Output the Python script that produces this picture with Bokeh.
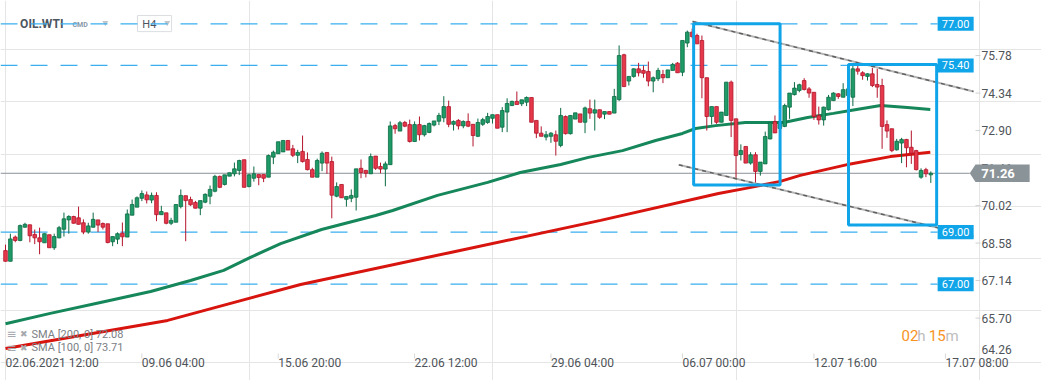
from bokeh.plotting import figure
from bokeh.models import Range1d, ColumnDataSource
from bokeh.embed import file_html
from bokeh.resources import INLINE
from bokeh.core.properties import value

# ---------------- data (OIL.WTI, H4 candles) ----------------
opens = [68.29, 67.88, 68.81, 68.68, 69.19, 69.28, 68.91, 68.78, 68.59, 68.90,
         68.40, 68.78, 69.11, 69.47, 69.60, 69.55, 69.36, 69.00, 69.19, 69.47,
         69.33, 69.32, 68.63, 68.73, 68.96, 68.81, 69.65, 69.96, 70.30, 70.43,
         70.23, 70.41, 69.67, 69.74, 69.34, 69.38, 69.98, 70.40, 70.25, 70.14,
         69.92, 70.15, 70.38, 70.57, 71.14, 70.83, 71.15, 71.24, 71.37, 71.78,
         70.75, 71.07, 71.21, 71.21, 71.11, 71.88, 72.01, 72.08, 72.52, 72.20,
         71.95, 72.10, 71.79, 71.40, 71.11, 71.65, 72.06, 71.71, 70.38, 70.83,
         70.26, 70.30, 70.34, 71.45, 71.37, 71.24, 71.92, 71.52, 71.42, 71.59,
         73.09, 72.88, 73.21, 73.13, 72.48, 73.13, 72.74, 72.83, 73.11, 73.26,
         73.39, 73.82, 73.14, 73.29, 73.08, 73.25, 73.14, 72.68, 73.14, 73.21,
         73.37, 73.51, 73.03, 73.61, 73.86, 74.02, 73.93, 73.99, 74.17, 73.29,
         72.80, 72.65, 72.68, 72.74, 72.33, 73.44, 72.78, 73.34, 73.54, 73.22,
         73.74, 73.57, 73.70, 73.53, 73.63, 73.57, 74.09, 75.81, 74.80, 74.98,
         75.27, 75.21, 75.17, 74.80, 74.89, 75.05, 74.93, 75.21, 75.49, 75.14,
         76.26, 76.68, 76.55, 76.36, 74.93, 73.44, 73.82, 73.22, 73.48, 74.76,
         73.35, 71.98, 72.29, 71.65, 71.97, 71.33, 71.62, 72.58, 73.25, 72.98,
         73.06, 73.80, 74.28, 74.44, 74.82, 74.50, 74.37, 73.48, 73.31, 73.70,
         74.05, 74.31, 74.18, 74.25, 74.18, 75.27, 75.12, 74.98, 75.08, 74.67,
         74.63, 73.13, 72.97, 72.16, 72.42, 72.56, 72.26, 72.13, 71.11, 71.40,
         71.20]
highs = [68.52, 68.94, 68.87, 69.29, 69.36, 69.29, 69.10, 69.17, 68.95, 68.90,
         68.94, 69.24, 69.75, 69.65, 69.63, 69.98, 69.49, 69.36, 69.75, 69.47,
         69.37, 69.32, 68.83, 68.99, 69.37, 69.87, 70.25, 70.37, 70.60, 70.56,
         70.52, 70.53, 70.01, 69.74, 69.55, 70.06, 70.64, 70.40, 70.36, 70.20,
         70.21, 70.49, 70.79, 71.20, 71.17, 71.20, 71.28, 71.67, 71.78, 71.78,
         71.24, 71.52, 71.21, 71.21, 71.98, 72.13, 72.47, 72.52, 72.52, 72.35,
         72.16, 72.71, 72.06, 71.47, 71.82, 72.10, 72.06, 71.90, 70.91, 70.83,
         70.37, 70.64, 71.43, 71.79, 71.39, 72.02, 71.92, 71.67, 71.71, 73.25,
         73.16, 73.27, 73.27, 73.32, 73.25, 73.44, 73.12, 73.21, 73.27, 73.58,
         74.22, 74.05, 73.29, 73.34, 73.29, 73.56, 73.14, 73.36, 73.39, 73.58,
         73.51, 73.51, 73.80, 74.14, 74.05, 74.40, 74.08, 74.21, 74.17, 73.29,
         73.06, 72.88, 72.84, 72.90, 73.77, 73.48, 73.48, 73.58, 73.54, 73.82,
         74.09, 74.09, 73.70, 73.63, 73.63, 74.50, 76.17, 75.85, 74.98, 75.29,
         75.50, 75.40, 75.55, 74.98, 75.31, 75.23, 75.23, 75.50, 75.53, 76.36,
         76.74, 76.82, 76.62, 76.55, 74.93, 73.82, 73.82, 73.61, 74.76, 74.82,
         73.35, 72.37, 72.29, 72.07, 72.07, 71.69, 72.86, 73.20, 73.48, 73.36,
         73.93, 74.34, 74.76, 74.70, 74.91, 74.57, 74.37, 73.82, 73.82, 74.27,
         74.37, 74.34, 74.72, 74.60, 75.40, 75.40, 75.18, 75.10, 75.31, 75.27,
         74.89, 73.29, 72.97, 72.58, 72.62, 72.58, 72.90, 72.16, 71.45, 71.47,
         71.33]
lows = [67.87, 67.88, 68.61, 68.65, 69.17, 68.61, 68.54, 68.15, 68.59, 68.40,
        68.32, 68.76, 68.83, 68.94, 69.33, 69.29, 68.92, 68.94, 69.17, 69.00,
        69.10, 68.57, 68.46, 68.54, 68.46, 68.81, 69.65, 69.96, 70.19, 70.10,
        70.11, 69.42, 69.67, 69.30, 69.27, 69.38, 69.91, 68.65, 70.01, 69.91,
        69.65, 70.11, 70.07, 70.53, 70.69, 70.79, 71.15, 71.14, 71.19, 70.72,
        70.72, 70.94, 70.80, 70.92, 71.11, 71.61, 72.01, 72.08, 72.15, 71.88,
        71.65, 71.67, 71.37, 71.11, 71.11, 71.34, 71.24, 69.53, 70.34, 70.32,
        69.98, 70.15, 69.83, 71.07, 71.10, 71.24, 71.39, 71.26, 70.76, 71.59,
        72.78, 72.88, 73.03, 72.44, 72.48, 72.52, 72.67, 72.80, 73.06, 73.11,
        73.22, 73.03, 72.90, 72.94, 72.99, 73.03, 72.29, 72.65, 73.08, 73.16,
        73.17, 72.99, 72.84, 72.84, 73.84, 73.90, 73.84, 73.84, 73.22, 72.61,
        72.68, 72.52, 72.43, 71.94, 72.26, 72.75, 72.75, 73.34, 73.22, 72.80,
        73.35, 72.90, 73.35, 73.34, 73.53, 73.57, 74.03, 74.57, 74.63, 74.93,
        74.98, 74.93, 74.60, 74.37, 74.80, 74.72, 74.93, 75.21, 75.12, 74.99,
        76.10, 76.44, 76.23, 74.14, 72.90, 73.13, 73.16, 73.22, 73.48, 72.65,
        71.06, 71.75, 71.65, 71.59, 70.86, 71.17, 71.62, 72.56, 72.81, 72.90,
        73.03, 73.35, 74.25, 74.37, 74.44, 74.16, 73.31, 73.13, 73.09, 73.67,
        74.05, 74.12, 74.18, 74.20, 73.84, 75.05, 74.85, 74.82, 74.57, 74.16,
        72.20, 72.62, 72.07, 72.13, 71.65, 71.49, 71.62, 71.37, 71.05, 71.11,
        70.89]
closes = [67.88, 68.74, 68.68, 69.25, 69.30, 68.86, 68.78, 68.63, 68.94, 68.40,
          68.83, 69.17, 69.51, 69.60, 69.34, 69.30, 69.00, 69.24, 69.49, 69.27,
          69.19, 68.60, 68.83, 68.94, 68.82, 69.70, 70.06, 70.32, 70.48, 70.24,
          70.41, 69.67, 69.79, 69.34, 69.45, 70.06, 70.41, 70.21, 70.05, 69.92,
          70.21, 70.45, 70.64, 71.14, 70.72, 71.20, 71.28, 71.43, 71.75, 70.72,
          71.20, 71.24, 71.10, 71.07, 71.94, 72.07, 72.47, 72.52, 72.15, 71.95,
          72.06, 71.71, 71.40, 71.11, 71.75, 72.03, 71.65, 70.42, 70.75, 70.32,
          70.37, 70.41, 71.43, 71.29, 71.26, 71.90, 71.45, 71.42, 71.62, 73.08,
          72.97, 73.20, 73.07, 72.48, 73.13, 72.74, 73.09, 73.17, 73.27, 73.48,
          73.82, 73.14, 73.25, 73.08, 73.25, 73.07, 72.71, 73.21, 73.32, 73.44,
          73.51, 72.99, 73.67, 73.94, 74.02, 73.90, 74.08, 74.17, 73.22, 72.80,
          72.68, 72.74, 72.80, 72.49, 73.48, 72.78, 73.48, 73.58, 73.22, 73.77,
          73.57, 73.70, 73.41, 73.63, 73.53, 74.21, 75.78, 74.59, 74.98, 75.27,
          75.12, 75.10, 74.80, 74.93, 75.21, 74.93, 75.23, 75.44, 75.12, 76.36,
          76.68, 76.51, 76.23, 74.93, 73.44, 73.82, 73.22, 73.61, 74.76, 73.29,
          71.94, 72.13, 71.65, 71.97, 71.33, 71.69, 72.67, 73.20, 72.81, 73.25,
          73.86, 74.34, 74.53, 74.66, 74.48, 74.34, 73.44, 73.31, 73.80, 74.18,
          74.34, 74.21, 74.47, 74.50, 75.27, 75.18, 75.01, 75.08, 74.63, 74.57,
          73.06, 72.88, 72.13, 72.49, 72.56, 72.24, 72.03, 71.40, 71.37, 71.24,
          71.26]

# moving averages (read at selected candle positions)
sma100_x = [0, 9.2, 19.5, 29.8, 38.0, 44.8, 50.3, 56.5, 64.9, 76.0, 79.5, 88.7,
            99.0, 105.7, 114.0, 119.7, 126.7, 133.5, 139.0, 141.7, 145.8, 151.9,
            159.8, 164.7, 170.0, 173.5, 179.7, 185.2, 189.9]
sma100_y = [65.48, 65.88, 66.30, 66.72, 67.14, 67.53, 68.03, 68.56, 69.10, 69.64,
            69.83, 70.41, 70.91, 71.29, 71.60, 71.87, 72.13, 72.52, 72.79, 72.98,
            73.09, 73.21, 73.21, 73.40, 73.56, 73.67, 73.86, 73.79, 73.71]
sma200_x = [0, 33.3, 60.6, 91.4, 122.2, 146.4, 152.0, 159.1, 163.2, 173.5, 181.7, 189.9]
sma200_y = [64.53, 65.61, 66.99, 68.22, 69.45, 70.48, 70.68, 70.95, 71.18, 71.62, 71.90, 72.07]

levels = [77.00, 75.40, 69.00, 67.00]
last_price = 71.26
y_ticks = [64.26, 65.70, 67.14, 68.58, 70.02, 71.46, 72.90, 74.34, 75.78]
x_tick_idx = [0, 28, 56, 84, 112, 139, 166, 193]
x_tick_labels = ["02.06.2021  12:00", "09.06  04:00", "15.06  20:00", "22.06  12:00",
                 "29.06  04:00", "06.07  00:00", "12.07  16:00", "17.07  08:00"]

# drawings (trend lines / boxes) in candle index / price
trend1_x, trend1_y = [141.07, 198.77], [77.09, 74.40]
trend2_x, trend2_y = [138.25, 198.83], [71.585, 68.83]
box_left = [141.3, 173.1]
box_right = [159.05, 191.2]
box_top = [77.00, 75.44]
box_bottom = [70.81, 69.27]

# ---------------- layout constants (index / price space) ----------------
X0, X1 = -1.027, 212.73          # full canvas width in candle-index units
Y0, Y1 = 63.302, 77.895          # full canvas height in price units
PLOT_RIGHT = 199.18              # right edge of the price area
PLOT_BOTTOM = 64.262             # bottom edge of the price area
UNIT_X = 1 / 4.87                # one pixel in index units
UNIT_Y = 1 / 26.04               # one pixel in price units

FONT = "Roboto"
BLUE = "#10a4e9"
AXIS_TXT = "#4f5459"

p = figure(width=1041, height=380, output_backend="svg", toolbar_location=None,
           x_range=Range1d(X0, X1), y_range=Range1d(Y0, Y1),
           min_border_left=0, min_border_right=0, min_border_top=0, min_border_bottom=0,
           x_axis_location=None, y_axis_location=None)
p.styles = {"position": "absolute", "left": "0px", "top": "0px"}
p.outline_line_color = None
p.background_fill_color = "white"
p.border_fill_color = "white"

# header (drawn first, the 77.00 level line runs across it)
p.text(x=[3.0], y=[77.0], text=["OIL.WTI"], text_font=value(FONT), text_font_size="12px",
       text_font_style="bold", text_color="#4d5560", text_baseline="middle")
p.text(x=[13.76], y=[76.96], text=["CMD"], text_font=value(FONT), text_font_size="7px",
       text_font_style="bold", text_color="#8797a6", text_baseline="middle")
p.scatter([20.5, 33.2], [77.04, 77.04], marker="inverted_triangle", size=6,
          fill_color="#c2c6ca", line_color=None)
p.quad(left=[27.1], right=[34.1], top=[77.32], bottom=[76.70], fill_color=None,
       line_color="#dcdfe2", line_width=1)
p.text(x=[28.1], y=[76.99], text=["H4"], text_font=value(FONT), text_font_size="11px",
       text_color="#4d5560", text_baseline="middle")

# horizontal levels (dashed up to the price tags)
lab_left = 191.4
p.segment(x0=[X0] * len(levels), y0=levels, x1=[lab_left] * len(levels), y1=levels,
          line_color="#3aaff0", line_width=1.2, line_dash="17 13")
p.segment(x0=[X0], y0=[last_price], x1=[198.0], y1=[last_price],
          line_color="#8c9196", line_width=1)

# moving averages
p.line(sma200_x, sma200_y, line_color="#d8140f", line_width=3)
p.line(sma100_x, sma100_y, line_color="#15875a", line_width=3)

# candles
idx = list(range(len(closes)))
inc = [c >= o for o, c in zip(opens, closes)]
src = ColumnDataSource(dict(
    x=idx, o=opens, h=highs, l=lows, c=closes,
    top=[max(o, c) for o, c in zip(opens, closes)],
    bot=[min(o, c) for o, c in zip(opens, closes)],
    fill=["#1f9b68" if k else "#e5384a" for k in inc],
    edge=["#0b6b44" if k else "#b3142b" for k in inc],
))
p.segment(x0="x", y0="h", x1="x", y1="l", source=src, line_color="edge", line_width=1)
p.vbar(x="x", top="top", bottom="bot", width=0.74, source=src,
       fill_color="fill", line_color="edge", line_width=0.8)

# trend lines
for tx, ty in [(trend1_x, trend1_y), (trend2_x, trend2_y)]:
    p.line(tx, ty, line_color="#b4b4b4", line_width=2)
    p.line(tx, ty, line_color="#5e5e5e", line_width=1.4, line_dash="4 4")

# boxes
p.quad(left=box_left, right=box_right, top=box_top, bottom=box_bottom,
       fill_color=None, line_color=BLUE, line_width=3)

# level tags
lab_x = [195.1] * len(levels)
p.rect(x=lab_x, y=levels, width=7.4, height=0.54, fill_color=BLUE, line_color=None)
p.text(x=lab_x, y=levels, text=["%.2f" % v for v in levels], text_color="white",
       text_font=value(FONT), text_font_size="11px", text_align="center",
       text_baseline="middle")

# price axis (right)
p.segment(x0=[PLOT_RIGHT] * (len(y_ticks) - 1), y0=y_ticks[1:],
          x1=[PLOT_RIGHT + 5 * UNIT_X] * (len(y_ticks) - 1), y1=y_ticks[1:],
          line_color="#d0d0d0", line_width=1)
p.text(x=[PLOT_RIGHT + 6 * UNIT_X] * len(y_ticks), y=y_ticks,
       text=["%.2f" % v for v in y_ticks],
       y_offset=[-6] + [0] * (len(y_ticks) - 1),
       text_font=value(FONT), text_font_size="12px", text_color=AXIS_TXT,
       text_baseline="middle", text_align="left")

# last price tag
h = 0.335
p.patch(x=[198.0, PLOT_RIGHT, 210.3, 210.3, PLOT_RIGHT],
        y=[last_price, last_price + h, last_price + h, last_price - h, last_price - h],
        fill_color="#8a9398", line_color=None)
p.text(x=[200.35], y=[last_price], text=["%.2f" % last_price], text_color="white",
       text_font=value(FONT), text_font_size="13px", text_font_style="bold",
       text_baseline="middle", text_align="left")

# time axis (bottom)
p.segment(x0=x_tick_idx, y0=[PLOT_BOTTOM + 2 * UNIT_Y] * len(x_tick_idx),
          x1=x_tick_idx, y1=[PLOT_BOTTOM - 3 * UNIT_Y] * len(x_tick_idx),
          line_color="#d8d8d8", line_width=1)
p.text(x=x_tick_idx, y=[PLOT_BOTTOM - 7 * UNIT_Y] * len(x_tick_idx), text=x_tick_labels,
       text_font=value(FONT), text_font_size="12px", text_color=AXIS_TXT,
       text_align="left", text_baseline="middle")

# indicator legend
leg_y = [65.07, 64.56]
leg_txt = ["SMA [200, 0] 72.08", "SMA [100, 0] 73.71"]
p.text(x=[0.2, 0.2], y=leg_y, text=["\u2261", "\u2261"], text_font=value("DejaVu Sans"),
       text_font_size="12px", text_color="#a5a9ad", text_baseline="middle")
p.text(x=[3.0, 3.0], y=leg_y, text=["\u2716", "\u2716"], text_font=value("DejaVu Sans"),
       text_font_size="9px", text_color="#a5a9ad", text_baseline="middle")
p.text(x=[5.34, 5.34], y=leg_y, text=leg_txt, text_font=value(FONT),
       text_font_size="11px", text_color="#7b8085", text_baseline="middle")

# countdown
p.text(x=[184.0, 187.2, 189.6, 193.0], y=[65.03] * 4, text=["02", "h", "15", "m"],
       text_color=["#f7931e", "#bdbdbd", "#f7931e", "#bdbdbd"],
       text_font=value(FONT), text_font_size="15px", text_baseline="middle")

open("out.html", "w").write(file_html(p, INLINE))
